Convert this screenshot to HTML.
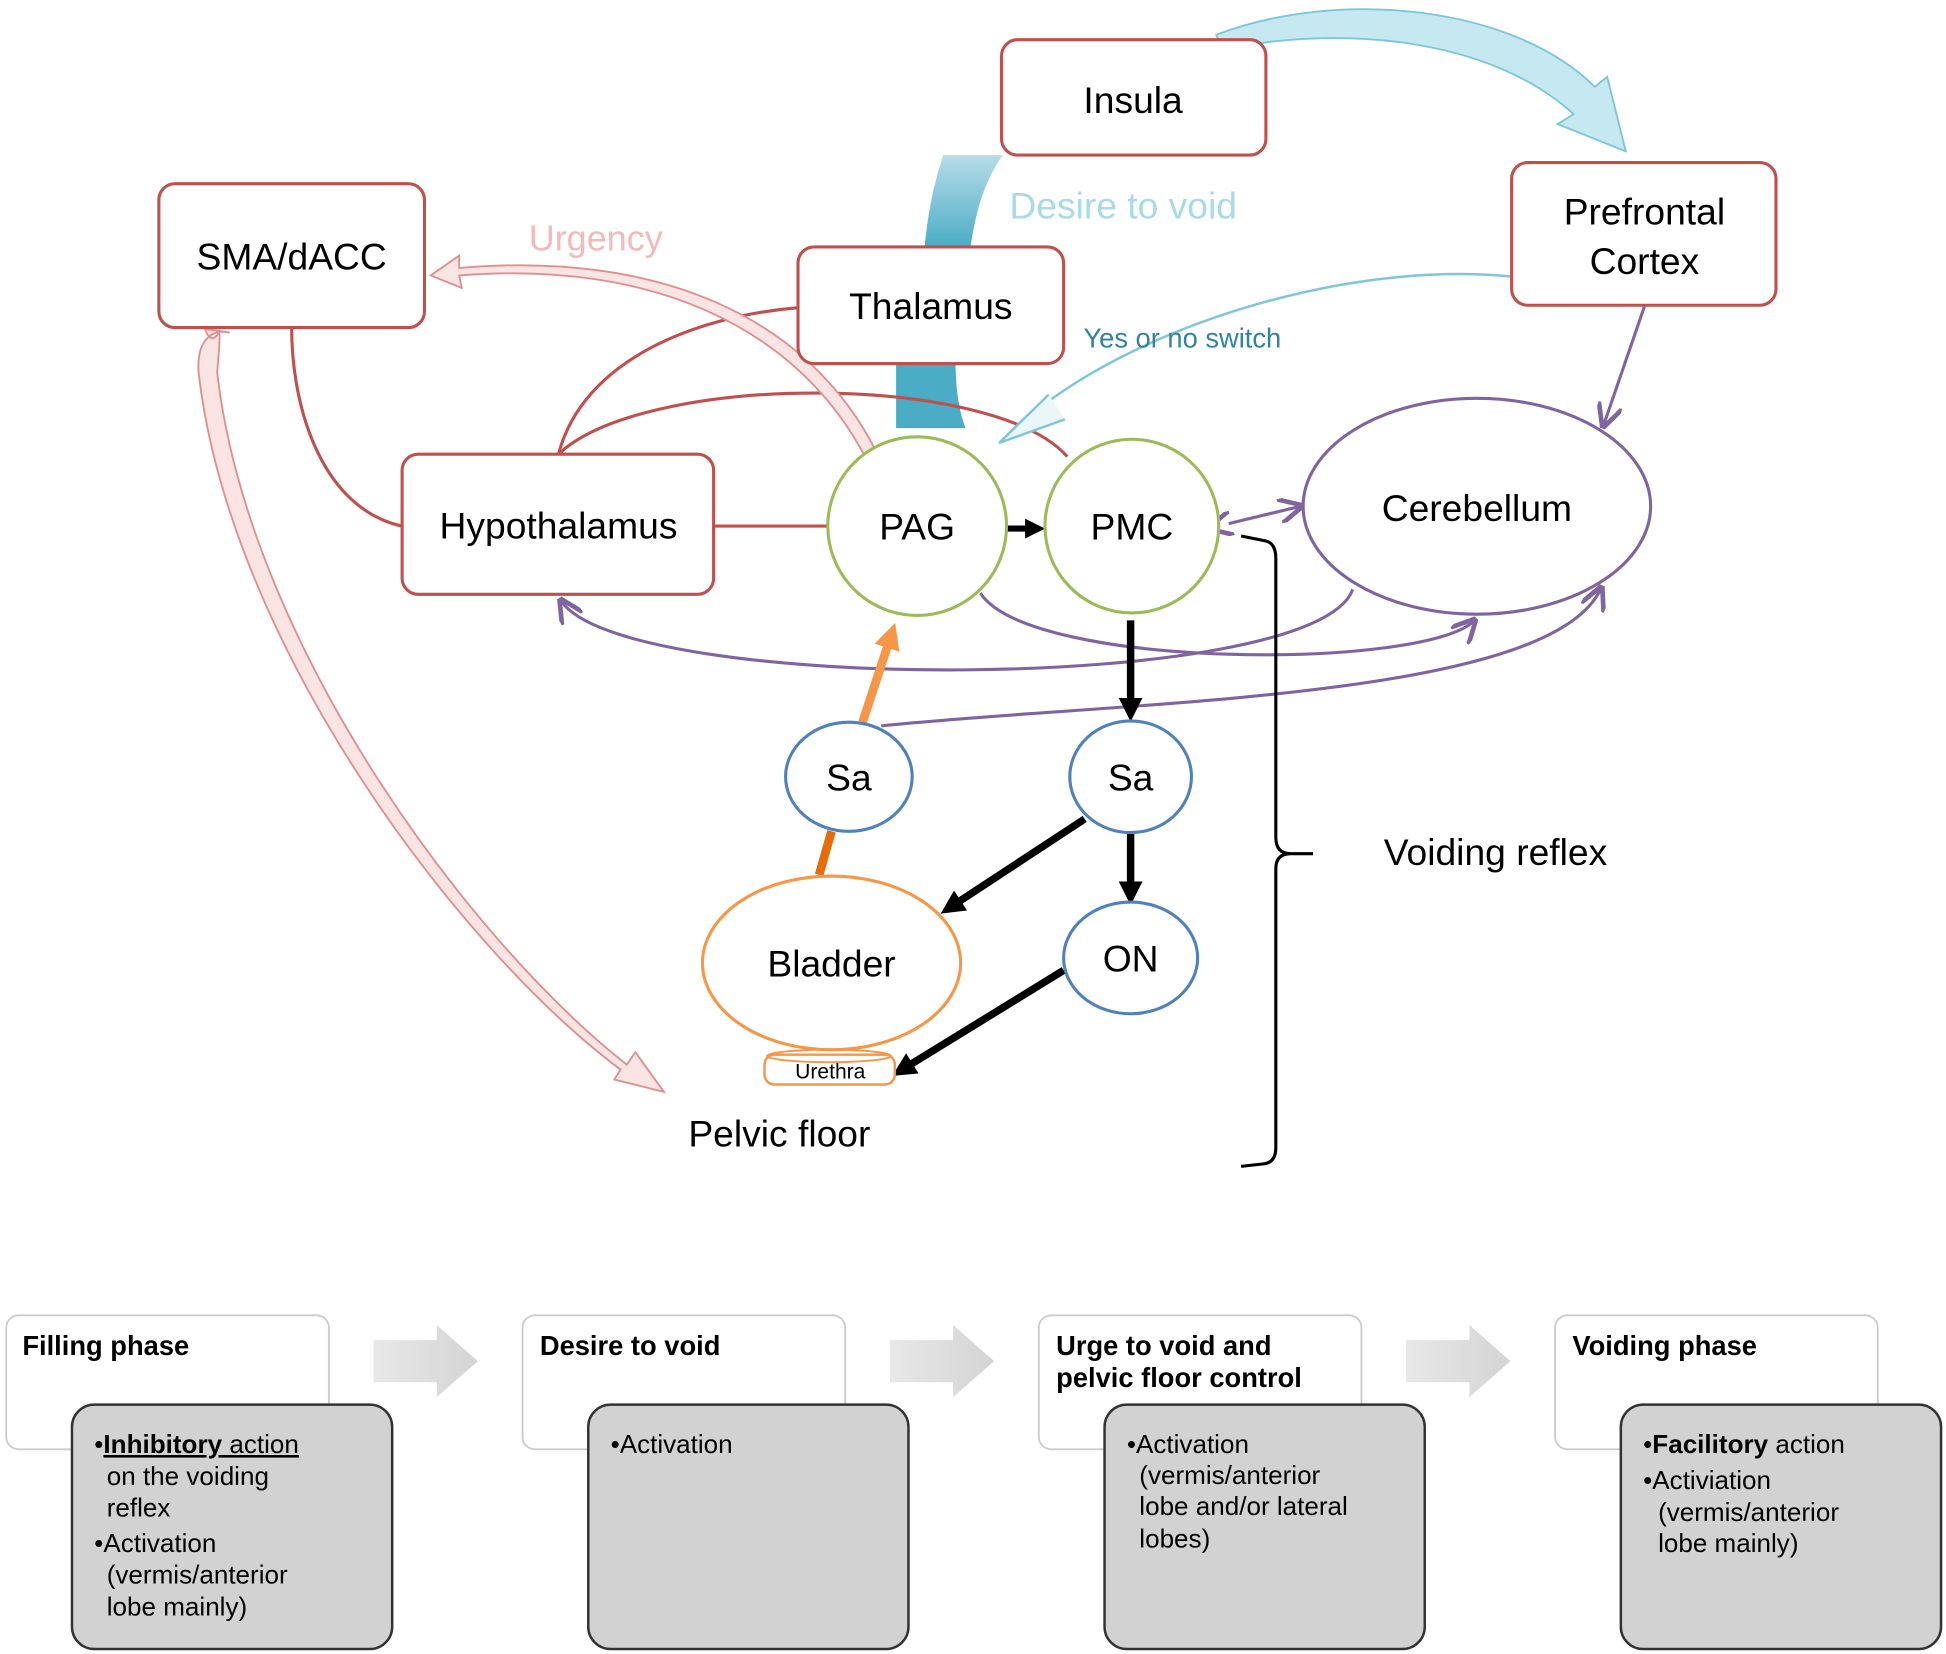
<!DOCTYPE html>
<html><head><meta charset="utf-8"><style>
html,body{margin:0;padding:0;background:#fff;}
svg{display:block;}
text{font-family:"Liberation Sans",Arial,sans-serif;}
</style></head><body>
<svg width="1946" height="1654" viewBox="0 0 1568 1333" preserveAspectRatio="none" xmlns="http://www.w3.org/2000/svg">
<defs>
<marker id="ab" markerWidth="3.2" markerHeight="3.2" refX="1.6" refY="1.6" orient="auto" markerUnits="strokeWidth"><path d="M0,0 L3.2,1.6 L0,3.2 z" fill="#000"/></marker>
<marker id="ap" markerWidth="8" markerHeight="8" refX="7" refY="4" orient="auto" markerUnits="strokeWidth"><path d="M0,0 L8,4 L0,8" fill="none" stroke="#8064a2" stroke-width="1.5"/></marker>
<marker id="ap2" markerWidth="8" markerHeight="8" refX="1" refY="4" orient="auto-start-reverse" markerUnits="strokeWidth"><path d="M0,0 L8,4 L0,8" fill="none" stroke="#8064a2" stroke-width="1.5"/></marker>
<marker id="ao" markerWidth="3" markerHeight="3" refX="1.5" refY="1.5" orient="auto" markerUnits="strokeWidth"><path d="M0,0 L3,1.5 L0,3 z" fill="#f79646"/></marker>
<linearGradient id="bg" x1="0" y1="0" x2="0" y2="1"><stop offset="0" stop-color="#b7dde8"/><stop offset="1" stop-color="#4bacc6"/></linearGradient>
<linearGradient id="ga" x1="0" y1="0" x2="1" y2="0"><stop offset="0" stop-color="#e8e8e8"/><stop offset="1" stop-color="#d4d4d4"/></linearGradient>
</defs>

<path d="M980,28 C1080,-10 1220,5 1285,70 L1295,62 L1310,122 L1255,100 L1268,92 C1200,30 1080,20 985,40 Z" fill="#c5e8f1" stroke="#7fc6da" stroke-width="1.5"/>
<path d="M760,125 L808,125 C790,150 785,180 782,199 L745,199 C748,170 752,150 760,125 Z" fill="url(#bg)"/>
<path d="M722,293 L770,293 C770,310 772,330 778,345 L722,345 C722,330 722,310 722,293 Z" fill="#4bacc6"/>

<g fill="none" stroke="#c0504d" stroke-width="2.5">
<path d="M235,264 C235,330 260,410 324,424"/>
<path d="M575,424 L667,424"/>
<path d="M450,366 C470,290 560,255 643,248"/>
<path d="M450,366 C520,300 800,300 860,368"/>
</g>
<path d="M697,368 C640,260 520,210 370,222 L372,232 L347,222 L370,206 L370,216 C530,202 650,255 705,362 Z" fill="#fbe4e4" stroke="#e08f8f" stroke-width="1.5"/>
<path d="M165,265 C175,290 180,240 175,300 C200,520 380,760 505,858 L512,848 L535,880 L495,870 L500,862 C370,765 185,520 160,300 C158,270 175,265 185,268 Z" fill="#fbe4e4" stroke="#e08f8f" stroke-width="1.5"/>

<path d="M1235,225 C1100,205 920,260 830,335" fill="none" stroke="#7fc6da" stroke-width="2"/>
<path d="M845,318 L805,357 L858,338" fill="#eaf6fa" stroke="#7fc6da" stroke-width="2"/>

<g fill="none" stroke="#8064a2" stroke-width="2.5">
<path d="M1325,247 L1292,343" marker-end="url(#ap)"/>
<path d="M990,422 L1048,408" marker-start="url(#ap2)" marker-end="url(#ap)"/>
<path d="M1090,475 C1060,560 500,560 452,484" marker-end="url(#ap)"/>
<path d="M790,478 C830,540 1150,540 1188,500" marker-end="url(#ap)"/>
<path d="M710,585 C900,565 1250,565 1290,474" marker-end="url(#ap)"/>
</g>

<path d="M1000,432 L1020,436 Q1028,438 1028,450 L1028,675 Q1028,688 1040,688 L1058,688 M1040,688 Q1028,688 1028,700 L1028,925 Q1028,937 1018,938 L1000,940" fill="none" stroke="#000" stroke-width="2.5"/>

<g stroke="#000" stroke-width="6" fill="none">
<path d="M812,426 L834,426" stroke-width="5" marker-end="url(#ab)"/>
<path d="M911,500 L911,572" marker-end="url(#ab)"/>
<path d="M874,660 L766,731" marker-end="url(#ab)"/>
<path d="M911,672 L911,720" marker-end="url(#ab)"/>
<path d="M857,782 L727,862" marker-end="url(#ab)"/>
</g>
<path d="M660,705 L670,670" stroke="#e46c0a" stroke-width="7"/>
<path d="M695,582 L718,512" stroke="#f79646" stroke-width="7" marker-end="url(#ao)"/>

<g fill="#fff" stroke="#c0504d" stroke-width="2.5">
<rect x="807" y="32" width="213" height="93" rx="13"/>
<rect x="128" y="148" width="214" height="116" rx="13"/>
<rect x="1218" y="131" width="213" height="115" rx="13"/>
<rect x="643" y="199" width="214" height="94" rx="13"/>
<rect x="324" y="366" width="251" height="113" rx="13"/>
</g>
<circle cx="739" cy="424" r="72" fill="#fff" stroke="#9bbb59" stroke-width="2.5"/>
<circle cx="912" cy="424" r="70" fill="#fff" stroke="#9bbb59" stroke-width="2.5"/>
<ellipse cx="1190" cy="408" rx="140" ry="87" fill="#fff" stroke="#8064a2" stroke-width="2.5"/>
<ellipse cx="684" cy="626" rx="51" ry="44" fill="#fff" stroke="#4f81bd" stroke-width="2.5"/>
<ellipse cx="911" cy="626" rx="49" ry="45" fill="#fff" stroke="#4f81bd" stroke-width="2.5"/>
<ellipse cx="911" cy="772" rx="54" ry="45" fill="#fff" stroke="#4f81bd" stroke-width="2.5"/>
<ellipse cx="670" cy="776" rx="104" ry="70" fill="#fff" stroke="#f79646" stroke-width="2.5"/>
<rect x="616" y="850" width="105" height="24" rx="8" fill="#fff" stroke="#f79646" stroke-width="2"/>
<ellipse cx="668" cy="851" rx="50" ry="5" fill="none" stroke="#f79646" stroke-width="1.5"/>

<g font-size="30" text-anchor="middle" fill="#000">
<text x="913" y="91">Insula</text>
<text x="235" y="217">SMA/dACC</text>
<text x="1325" y="181">Prefrontal</text>
<text x="1325" y="221">Cortex</text>
<text x="750" y="257">Thalamus</text>
<text x="450" y="434">Hypothalamus</text>
<text x="739" y="435">PAG</text>
<text x="912" y="435">PMC</text>
<text x="1190" y="420">Cerebellum</text>
<text x="684" y="637">Sa</text>
<text x="911" y="637">Sa</text>
<text x="911" y="783">ON</text>
<text x="670" y="787">Bladder</text>
<text x="628" y="924">Pelvic floor</text>
<text x="1205" y="697">Voiding reflex</text>
<text x="669" y="869" font-size="17">Urethra</text>
</g>
<text x="905" y="176" font-size="30" text-anchor="middle" fill="#a8dbe9">Desire to void</text>
<text x="480" y="202" font-size="29" text-anchor="middle" fill="#f4b9b9">Urgency</text>
<text x="873" y="280" font-size="22" fill="#31849b">Yes or no switch</text>

<g font-size="21" fill="#000">
<g>
<rect x="5" y="1060" width="260" height="108" rx="10" fill="#fff" stroke="#ccc" stroke-width="1.5"/>
<rect x="58" y="1132" width="258" height="197" rx="18" fill="#d2d2d2" stroke="#333" stroke-width="2"/>
<text x="18" y="1092" font-weight="bold" font-size="22">Filling phase</text>
<text x="76" y="1171">•<tspan font-weight="bold" text-decoration="underline">Inhibitory</tspan><tspan text-decoration="underline"> action</tspan></text>
<text x="86" y="1197">on the voiding</text>
<text x="86" y="1222">reflex</text>
<text x="76" y="1251">•Activation</text>
<text x="86" y="1276">(vermis/anterior</text>
<text x="86" y="1302">lobe mainly)</text>
</g>
<g>
<rect x="421" y="1060" width="260" height="108" rx="10" fill="#fff" stroke="#ccc" stroke-width="1.5"/>
<rect x="474" y="1132" width="258" height="197" rx="18" fill="#d2d2d2" stroke="#333" stroke-width="2"/>
<text x="435" y="1092" font-weight="bold" font-size="22">Desire to void</text>
<text x="492" y="1171">•Activation</text>
</g>
<g>
<rect x="837" y="1060" width="260" height="108" rx="10" fill="#fff" stroke="#ccc" stroke-width="1.5"/>
<rect x="890" y="1132" width="258" height="197" rx="18" fill="#d2d2d2" stroke="#333" stroke-width="2"/>
<text x="851" y="1092" font-weight="bold" font-size="22">Urge to void and</text>
<text x="851" y="1118" font-weight="bold" font-size="22">pelvic floor control</text>
<text x="908" y="1171">•Activation</text>
<text x="918" y="1196">(vermis/anterior</text>
<text x="918" y="1221">lobe and/or lateral</text>
<text x="918" y="1247">lobes)</text>
</g>
<g>
<rect x="1253" y="1060" width="260" height="108" rx="10" fill="#fff" stroke="#ccc" stroke-width="1.5"/>
<rect x="1306" y="1132" width="258" height="197" rx="18" fill="#d2d2d2" stroke="#333" stroke-width="2"/>
<text x="1267" y="1092" font-weight="bold" font-size="22">Voiding phase</text>
<text x="1324" y="1171">•<tspan font-weight="bold">Facilitory</tspan> action</text>
<text x="1324" y="1200">•Activiation</text>
<text x="1336" y="1226">(vermis/anterior</text>
<text x="1336" y="1251">lobe mainly)</text>
</g>
</g>
<g fill="url(#ga)">
<path d="M301,1080 L352,1080 L352,1068 L385,1097 L352,1126 L352,1114 L301,1114 Z"/>
<path d="M717,1080 L768,1080 L768,1068 L801,1097 L768,1126 L768,1114 L717,1114 Z"/>
<path d="M1133,1080 L1184,1080 L1184,1068 L1217,1097 L1184,1126 L1184,1114 L1133,1114 Z"/>
</g>
</svg>
</body></html>
